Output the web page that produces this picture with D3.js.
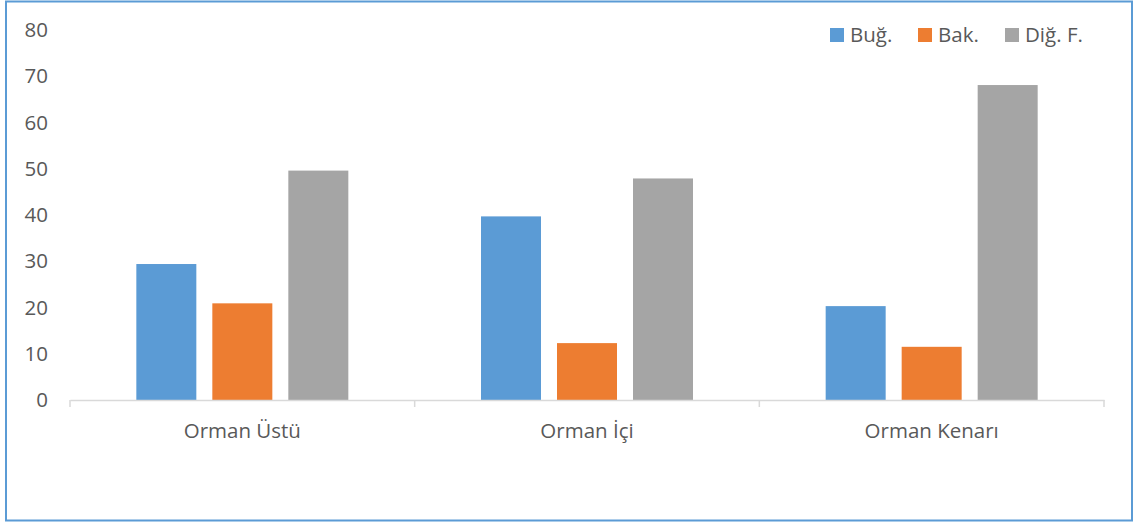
<!DOCTYPE html>
<html><head><meta charset="utf-8">
<script src="https://cdn.jsdelivr.net/npm/d3@7"></script>
<style>body{margin:0;background:#fff;}svg{display:block;}</style>
</head><body>
<svg id="c" width="1134" height="525"></svg>
<script>
const categories = ["Orman Üstü", "Orman İçi", "Orman Kenarı"];
const seriesNames = ["Buğ.", "Bak.", "Diğ. F."];
const bug = [29.4, 39.7, 20.3];
const bak = [20.9, 12.3, 11.5];
const dig = [49.6, 47.9, 68.1];
const yTicks = [0, 10, 20, 30, 40, 50, 60, 70, 80];
const colors = ["#5B9BD5", "#ED7D31", "#A5A5A5"];

(function () {
const series = [bug, bak, dig];
const svg = d3.select("#c");
const font = "'Open Sans', 'Noto Sans', sans-serif";
const fs = 20.5;
const textColor = "#595959";

svg.append("rect").attr("x", 6).attr("y", 1.5).attr("width", 1126).attr("height", 519)
  .attr("fill", "#fff").attr("stroke", "#5B9BD5").attr("stroke-width", 2);

const pL = 70, pR = 1104, pT = 30, pB = 400;
const x = d3.scaleBand().domain(categories).range([pL, pR]).paddingInner(0).paddingOuter(0);
const y = d3.scaleLinear().domain([0, 80]).range([pB, pT]);
const bandW = x.bandwidth();
const barW = 60, gap = 16;
const groupW = 3 * barW + 2 * gap;
const xs = d3.scaleBand().domain(seriesNames).range([0, groupW]).paddingInner(gap / (barW + gap)).paddingOuter(0);

// y axis labels
const yAxis = d3.axisLeft(y).tickValues(yTicks).tickSize(0).tickPadding(0);
const ga = svg.append("g").attr("transform", `translate(48,0)`).call(yAxis);
ga.select(".domain").remove();
ga.selectAll("text").attr("font-family", font).attr("font-size", fs).attr("fill", textColor);

// bars
series.forEach((vals, si) => {
  svg.append("g").selectAll("rect").data(vals).join("rect")
    .attr("x", (d, i) => x(categories[i]) + (bandW - groupW) / 2 + xs(seriesNames[si]))
    .attr("y", d => y(d))
    .attr("width", xs.bandwidth())
    .attr("height", d => y(0) - y(d))
    .attr("fill", colors[si]);
});

// x axis
const xAxis = d3.axisBottom(x).tickSize(0).tickPadding(23);
const gx = svg.append("g").attr("transform", `translate(0,${pB})`).call(xAxis);
gx.select(".domain").attr("stroke", "#D9D9D9").attr("stroke-width", 1.5);
gx.selectAll("text").attr("font-family", font).attr("font-size", fs).attr("fill", textColor);
const bounds = [pL, ...categories.map(c => x(c) + bandW)];
svg.append("g").selectAll("line").data(bounds).join("line")
  .attr("x1", d => d).attr("x2", d => d).attr("y1", pB).attr("y2", pB + 7)
  .attr("stroke", "#D9D9D9").attr("stroke-width", 1.5);

// legend
const legendX = [830, 918, 1005];
const lg = svg.append("g");
seriesNames.forEach((n, i) => {
  lg.append("rect").attr("x", legendX[i]).attr("y", 28).attr("width", 14).attr("height", 14).attr("fill", colors[i]);
  lg.append("text").attr("x", legendX[i] + 20).attr("y", 42).text(n)
    .attr("font-family", font).attr("font-size", fs).attr("fill", textColor);
});
})();
</script>
</body></html>
